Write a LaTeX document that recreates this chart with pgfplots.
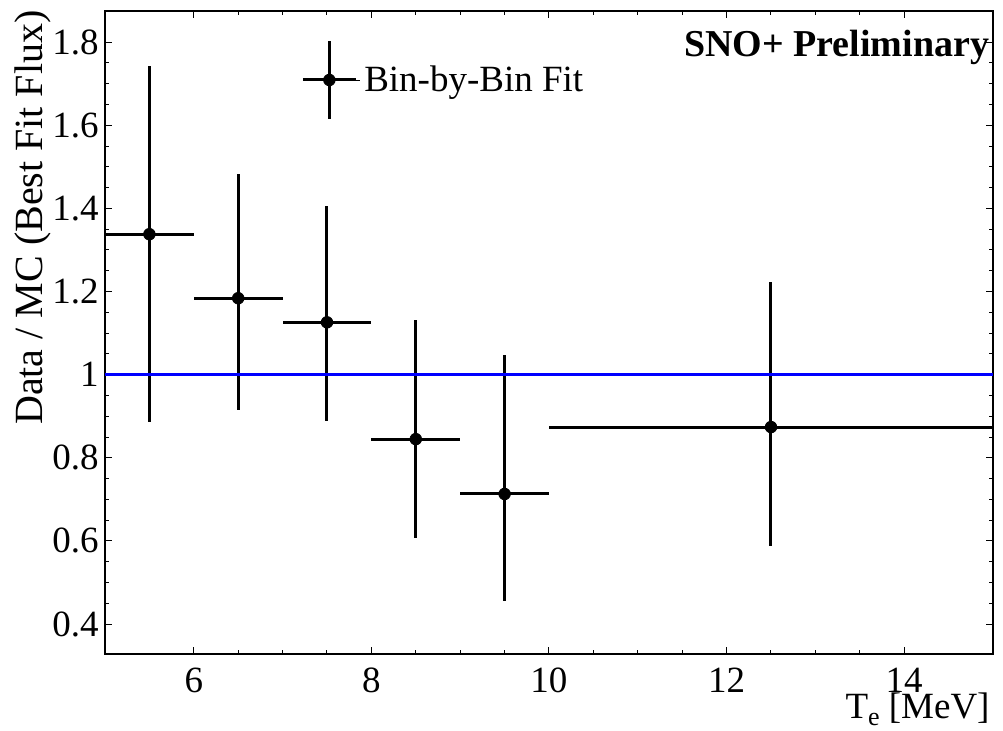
\documentclass[border=0pt]{standalone}
\usepackage{fontspec}
\setmainfont{Liberation Serif}
\usepackage{pgfplots}
\pgfplotsset{compat=1.18}
\definecolor{rootblue}{RGB}{0,0,255}

\begin{document}
\begin{tikzpicture}
% 1 px of the reference = 0.5pt
\path[use as bounding box] (-52.5pt,-38pt) rectangle (449pt,327pt);
\begin{axis}[
  scale only axis, width=444pt, height=321.5pt,
  xmin=5, xmax=15, ymin=0.328, ymax=1.875,
  clip mode=individual,
  xtick={6,8,10,12,14}, ytick={0.4,0.6,0.8,1,1.2,1.4,1.6,1.8},
  minor x tick num=3, minor y tick num=3,
  tick align=inside, xtick pos=both, ytick pos=both,
  major tick length=3.5pt, minor tick length=2pt,
  every tick/.style={black, line width=0.5pt},
  axis line style={line width=1pt},
  /pgf/number format/assume math mode=true,
  tick label style={font=\fontsize{18.5}{21}\selectfont},
  xticklabel style={yshift=-3.5pt},
  yticklabel style={xshift=0.3pt},
  legend style={at={(0.2207,0.8927)}, anchor=west, draw=none, fill=none,
    inner sep=0pt, font=\fontsize{18.5}{21}\selectfont},
  legend cell align=left,
]
\addplot[black, only marks, mark=*, mark size=2.9pt,
  legend image code/.code={
    \draw[black, line width=1.5pt] (0pt,0pt) -- (26.5pt,0pt);
    \draw[black, line width=1.5pt] (13.25pt,-19.5pt) -- (13.25pt,19.5pt);
    \fill[black] (13.25pt,0pt) circle (2.9pt);
    \path (0pt,0pt) -- (28.5pt,0pt);
  },
  error bars/.cd, x dir=both, y dir=both, x explicit, y explicit,
  error mark=none, error bar style={line width=1.5pt, black}]
coordinates {
  (5.5,1.338)  += (0.5,0.404) -= (0.5,0.452)
  (6.5,1.184)  += (0.5,0.298) -= (0.5,0.269)
  (7.5,1.126)  += (0.5,0.279) -= (0.5,0.238)
  (8.5,0.845)  += (0.5,0.286) -= (0.5,0.238)
  (9.5,0.713)  += (0.5,0.334) -= (0.5,0.258)
  (12.5,0.874) += (2.5,0.349) -= (2.5,0.286)
};
\addlegendentry{Bin-by-Bin Fit}
\addplot[rootblue, line width=1.5pt, forget plot] coordinates {(5,1) (15,1)};

\node[anchor=base east, inner sep=0pt, font=\fontsize{19}{22}\selectfont\bfseries]
  at (rel axis cs:0.996,0.9285) {SNO+ Preliminary};
\node[anchor=base east, inner sep=0pt, yshift=-32pt, font=\fontsize{18.5}{21}\selectfont]
  at (rel axis cs:0.9966,0) {T\raisebox{-3.5pt}{\fontsize{13}{14}\selectfont e} [MeV]};
% rotated node: xshift runs along the text (up), yshift across it (left)
\node[anchor=base east, rotate=90, inner sep=0pt, xshift=0.5pt, yshift=31pt,
  font=\fontsize{20}{23}\selectfont]
  at (rel axis cs:0,1) {Data / MC (Best Fit Flux)};
\end{axis}
\end{tikzpicture}
\end{document}
